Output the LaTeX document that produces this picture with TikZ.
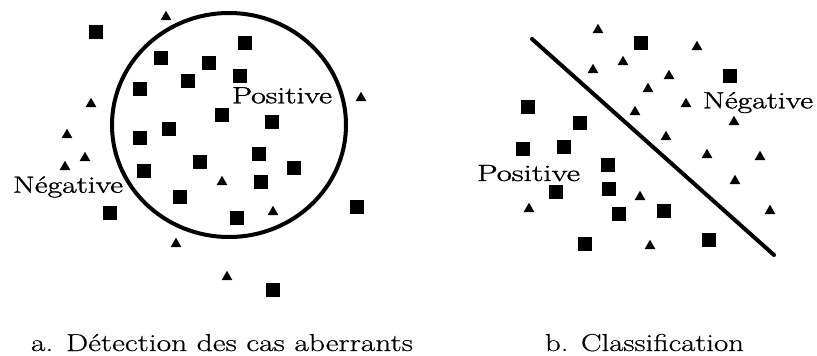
\documentclass[tikz,border=0pt]{standalone}
\usepackage{fontspec}
\usetikzlibrary{shapes.geometric}
\newfontfamily\lblfont[FakeBold=1.2]{Latin Modern Roman}
\newfontfamily\capfont[FakeBold=0.5]{Latin Modern Roman}
\tikzset{
  sq/.style={fill=black, draw=none, minimum size=14.5pt, inner sep=0pt, rectangle},
  tri/.style={fill=black, draw=none, regular polygon, regular polygon sides=3, minimum size=12.5pt, inner sep=0pt},
  lbl/.style={inner sep=0pt, anchor=base, font=\lblfont\fontsize{23.5}{27}\selectfont},
  captxt/.style={inner sep=0pt, anchor=base, font=\capfont\fontsize{24.5}{28}\selectfont},
  bound/.style={line width=4pt, line cap=round}
}
\begin{document}
\begin{tikzpicture}[x=1pt,y=-1pt]
\useasboundingbox (0,0) rectangle (817,356);
% ---- left panel: outlier detection ----
\draw[bound] (229,125) ellipse [x radius=117, y radius=112];
\foreach \p [count=\i] in {(96,32),(245,43),(161,58),(209,63),(188,81),(240,76),(140,89),(222,115),(272,122),(169,129),(140,138),(259,154),(200,162),(294,168),(144,171),(261,182),(180,197),(110,213),(237,218),(357,207),(273,290)}
  \node[sq] (ls\i) at \p {};
\foreach \p [count=\i] in {(166,17),(91,104),(361,98),(67,135),(85,158),(65,167),(222,182),(273,212),(176,244),(227,277)}
  \node[tri] (lt\i) at \p {};
\node[lbl] (lpos) at (282,103.3) {\resizebox{100pt}{\height}{Positive}};
\node[lbl] (lneg) at (68,192.7) {\resizebox{110pt}{\height}{Négative}};
% ---- right panel: classification ----
\coordinate (la) at (532,39);
\coordinate (lb) at (774,255);
\draw[bound] (la) -- (lb);
\foreach \p [count=\i] in {(641,43),(730,76),(528,107),(580,123),(523,149),(564,147),(608,165),(556,192),(609,189),(619,214),(664,211),(585,244),(709,240)}
  \node[sq] (rs\i) at \p {};
\foreach \p [count=\i] in {(598,30),(697,47),(623,62),(593,70),(669,76),(648,89),(686,104),(635,112),(734,122),(666,137),(707,155),(760,157),(735,181),(640,197),(529,209),(770,211),(650,246)}
  \node[tri] (rt\i) at \p {};
\node[lbl] (rneg) at (758,108.3) {\resizebox{110pt}{\height}{Négative}};
\node[lbl] (rpos) at (528.5,181) {\resizebox{103pt}{\height}{Positive}};
% ---- captions ----
\node[captxt] (capa) at (222,351) {\resizebox{382pt}{\height}{a. Détection des cas aberrants}};
\node[captxt] (capb) at (644.5,351) {\resizebox{199pt}{\height}{b. Classification}};
\end{tikzpicture}
\end{document}
